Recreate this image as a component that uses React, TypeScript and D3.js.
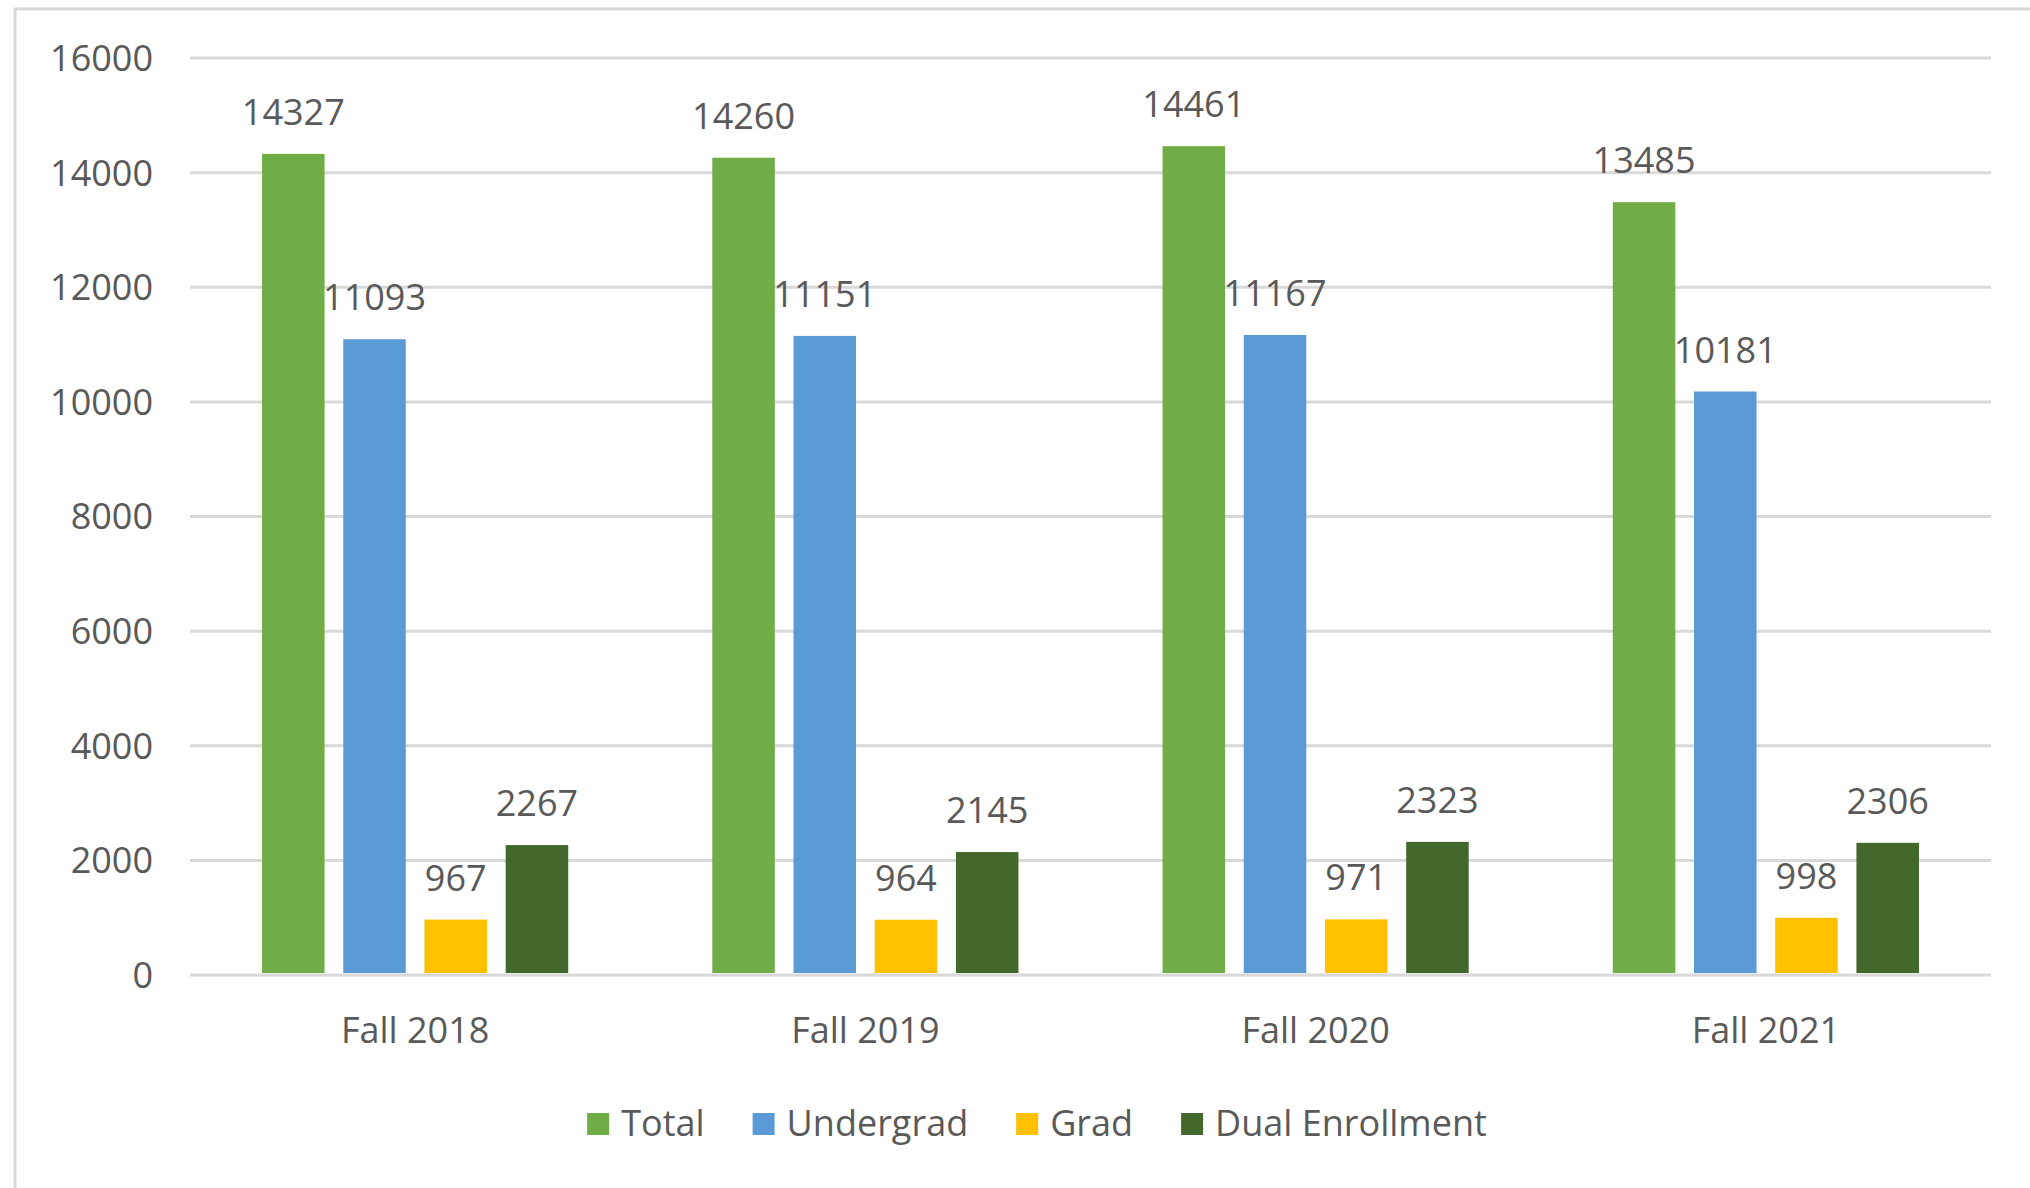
import React, { useEffect, useRef } from "react";
import * as d3 from "d3";

const categories = ["Fall 2018", "Fall 2019", "Fall 2020", "Fall 2021"];
const seriesNames = ["Total", "Undergrad", "Grad", "Dual Enrollment"];
const seriesColors = ["#70AD47", "#5B9BD5", "#FFC000", "#43682B"];
const totalValues = [14327, 14260, 14461, 13485];
const undergradValues = [11093, 11151, 11167, 10181];
const gradValues = [967, 964, 971, 998];
const dualValues = [2267, 2145, 2323, 2306];
const yTicks = [0, 2000, 4000, 6000, 8000, 10000, 12000, 14000, 16000];

const W = 2030;
const H = 1188;

export default function App() {
  const ref = useRef<SVGSVGElement | null>(null);

  useEffect(() => {
    const svg = d3.select(ref.current);
    svg.selectAll("*").remove();
    const font = "'Open Sans', sans-serif";
    const textColor = "#595959";
    const fs = 36;

    const left = 190, right = 1991, top = 58, bottom = 975;
    const x = d3.scaleBand<string>().domain(categories).range([left, right]);
    const y = d3.scaleLinear().domain([0, 16000]).range([bottom, top]);
    const groupW = x.bandwidth() * 0.68;
    const inner = d3.scaleBand<string>().domain(seriesNames).range([0, groupW]).paddingInner(0.23);

    const series = [totalValues, undergradValues, gradValues, dualValues];

    // border
    svg.append("path")
      .attr("d", `M15,${H} L15,9 L${W},9`)
      .attr("fill", "none")
      .attr("stroke", "#d9d9d9")
      .attr("stroke-width", 3);

    // gridlines
    svg.append("g").selectAll("line").data(yTicks).join("line")
      .attr("x1", left).attr("x2", right)
      .attr("y1", (d) => y(d)).attr("y2", (d) => y(d))
      .attr("stroke", "#d9d9d9").attr("stroke-width", 3);

    // y tick labels
    svg.append("g").selectAll("text").data(yTicks).join("text")
      .attr("x", 153).attr("y", (d) => y(d))
      .attr("dy", "0.36em")
      .attr("text-anchor", "end")
      .attr("font-family", font).attr("font-size", fs).attr("fill", textColor)
      .text((d) => String(d));

    // bars
    series.forEach((vals, si) => {
      const g = svg.append("g");
      const bx = (i: number) => (x(categories[i]) as number) + (x.bandwidth() - groupW) / 2 + (inner(seriesNames[si]) as number);
      g.selectAll("rect").data(vals).join("rect")
        .attr("x", (d, i) => bx(i))
        .attr("width", inner.bandwidth())
        .attr("y", (d) => y(d))
        .attr("height", (d) => y(0) - y(d) - 2)
        .attr("fill", seriesColors[si]);
      g.selectAll("text").data(vals).join("text")
        .attr("x", (d, i) => bx(i) + inner.bandwidth() / 2)
        .attr("y", (d) => y(d) - 29)
        .attr("text-anchor", "middle")
        .attr("font-family", font).attr("font-size", fs).attr("fill", textColor)
        .text((d) => String(d));
    });

    // x labels
    svg.append("g").selectAll("text").data(categories).join("text")
      .attr("x", (d) => (x(d) as number) + x.bandwidth() / 2)
      .attr("y", 1043)
      .attr("text-anchor", "middle")
      .attr("font-family", font).attr("font-size", fs).attr("fill", textColor)
      .text((d) => d);

    // legend
    const lg = svg.append("g");
    const sq = 22, gap1 = 12, gap2 = 48;
    const items: { g: any; w: number }[] = [];
    seriesNames.forEach((name, i) => {
      const ig = lg.append("g");
      ig.append("rect").attr("x", 0).attr("y", 1113).attr("width", sq).attr("height", sq).attr("fill", seriesColors[i]);
      const t = ig.append("text").attr("x", sq + gap1).attr("y", 1136)
        .attr("font-family", font).attr("font-size", fs).attr("fill", textColor)
        .text(name);
      const tw = (t.node() as SVGTextElement).getComputedTextLength();
      items.push({ g: ig, w: sq + gap1 + tw });
    });
    const totalW = d3.sum(items, (d) => d.w) + gap2 * (items.length - 1);
    let cx = 1037 - totalW / 2;
    items.forEach((it) => {
      it.g.attr("transform", `translate(${cx},0)`);
      cx += it.w + gap2;
    });
  }, []);

  return (
    <div style={{ position: "fixed", left: 0, top: 0, width: W, height: H, background: "#fff" }}>
      <svg ref={ref} width={W} height={H} style={{ display: "block" }} />
    </div>
  );
}
